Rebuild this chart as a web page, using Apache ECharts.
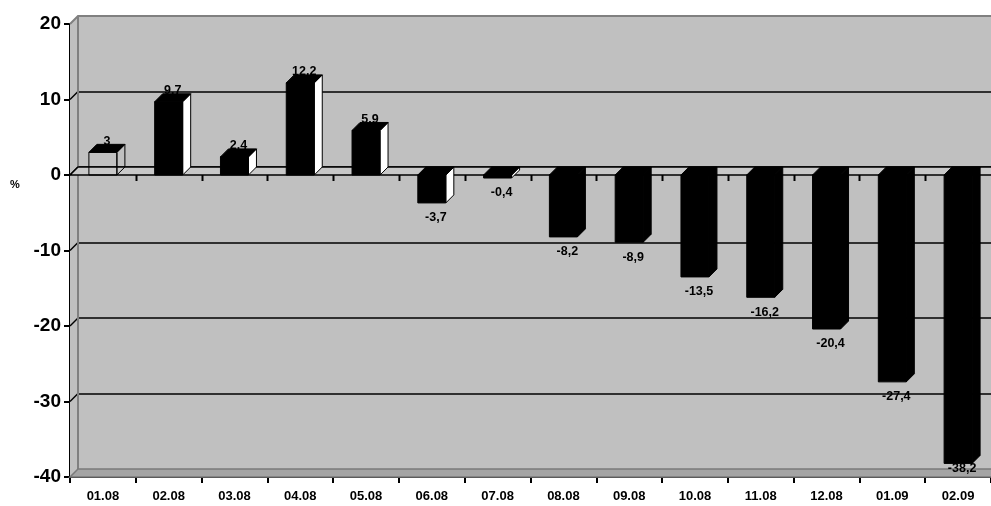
<!DOCTYPE html>
<html>
<head>
<meta charset="utf-8">
<script src="https://cdn.jsdelivr.net/npm/echarts@6/dist/echarts.min.js"></script>
<style>
  html, body { margin: 0; padding: 0; background: #fff; }
  #chart { width: 991px; height: 506px; }
</style>
</head>
<body>
<div id="chart"></div>
<script>
const months = ['01.08', '02.08', '03.08', '04.08', '05.08', '06.08', '07.08',
  '08.08', '09.08', '10.08', '11.08', '12.08', '01.09', '02.09']
const values = [3, 9.7, 2.4, 12.2, 5.9, -3.7, -0.4, -8.2, -8.9, -13.5, -16.2, -20.4, -27.4, -38.2]
const valueLabels = ['3', '9.7', '2.4', '12.2', '5.9', '-3,7', '-0,4', '-8,2', '-8,9',
  '-13,5', '-16,2', '-20,4', '-27,4', '-38,2']
const yTicks = [-40, -30, -20, -10, 0, 10, 20]

const DEPTH = 8 // 3D depth offset (px, right and up)
const BAR_HALF = 14
const FONT = 'Liberation Sans, Arial, sans-serif'

// side wall, floor, zero plane and zero line ticks
function renderWalls(params, api) {
  const cs = params.coordSys
  const left = cs.x
  const right = cs.x + cs.width
  const top = cs.y
  const bottom = cs.y + cs.height
  const d = DEPTH
  const y0 = api.coord([0, 0])[1]
  const band = api.size([1, 0])[0]
  const children = []

  children.push({
    type: 'polygon',
    shape: { points: [[left, top], [left + d, top - d], [left + d, bottom - d], [left, bottom]] },
    style: { fill: '#C0C0C0' }
  })
  yTicks.forEach(t => {
    if (t === yTicks[0] || t === yTicks[yTicks.length - 1]) return
    const y = api.coord([0, t])[1]
    children.push({
      type: 'line',
      shape: { x1: left, y1: y, x2: left + d, y2: y - d },
      style: { stroke: '#000', lineWidth: 1.5 }
    })
  })
  // wall edges
  children.push({
    type: 'polyline',
    shape: { points: [[left, top], [left + d, top - d], [right + d, top - d]] },
    style: { stroke: '#808080', lineWidth: 2, fill: null }
  })
  children.push({
    type: 'line',
    shape: { x1: left + d, y1: top - d, x2: left + d, y2: bottom - d },
    style: { stroke: '#808080', lineWidth: 2 }
  })
  // floor
  children.push({
    type: 'polygon',
    shape: { points: [[left, bottom], [left + d, bottom - d], [right + d, bottom - d], [right, bottom]] },
    style: { fill: '#A4A4A4', stroke: '#7A7A7A', lineWidth: 1.5 }
  })
  // zero plane
  children.push({
    type: 'polygon',
    shape: { points: [[left, y0], [left + d, y0 - d], [right + d, y0 - d], [right, y0]] },
    style: { fill: '#C8C8C8', stroke: '#000', lineWidth: 1.5 }
  })
  // ticks on the zero line at category boundaries
  for (let k = 1; k < months.length; k++) {
    const x = Math.round(api.coord([k, 0])[0] - band / 2) + 0.5
    children.push({
      type: 'line',
      shape: { x1: x, y1: y0, x2: x, y2: y0 + 6 },
      style: { stroke: '#000', lineWidth: 2 }
    })
  }
  return { type: 'group', children }
}

function renderBar(params, api) {
  const i = api.value(0)
  const v = api.value(1)
  const p = api.coord([i, v])
  const base = api.coord([i, 0])
  const cs = params.coordSys
  const d = DEPTH
  const cx = p[0]
  const x0 = cx - BAR_HALF
  const x1 = cx + BAR_HALF
  const yTop = Math.min(p[1], base[1])
  const yBot = Math.max(p[1], base[1])
  const hollow = params.dataIndex === 0
  const frontFill = hollow ? null : '#000'
  const sideFill = hollow ? null : (v < -5 ? '#000' : '#fff')

  let ly = v >= 0 ? yTop - 11 : yBot + 15
  ly = Math.min(ly, cs.y + cs.height - 8)

  return {
    type: 'group',
    children: [
      {
        type: 'polygon',
        shape: { points: [[x1, yTop], [x1 + d, yTop - d], [x1 + d, yBot - d], [x1, yBot]] },
        style: { fill: sideFill, stroke: '#000', lineWidth: 1 }
      },
      {
        type: 'rect',
        shape: { x: x0, y: yTop, width: x1 - x0, height: yBot - yTop },
        style: { fill: frontFill, stroke: '#000', lineWidth: 1 }
      },
      {
        type: 'polygon',
        shape: { points: [[x0, yTop], [x0 + d, yTop - d], [x1 + d, yTop - d], [x1, yTop]] },
        style: { fill: '#000', stroke: '#000', lineWidth: 1 }
      },
      {
        type: 'text',
        style: {
          text: valueLabels[params.dataIndex],
          x: cx + 4,
          y: ly,
          fill: '#000',
          font: 'bold 12.5px ' + FONT,
          textAlign: 'center',
          textVerticalAlign: 'middle',
          align: 'center',
          verticalAlign: 'middle'
        }
      }
    ]
  }
}

const chart = echarts.init(document.getElementById('chart'))
chart.setOption({
  animation: false,
  grid: [
    { left: 70, top: 24, right: 0, bottom: 29, containLabel: false },
    { left: 78, top: 16, right: -8, bottom: 37, show: true, backgroundColor: '#C0C0C0', borderWidth: 0 }
  ],
  xAxis: [
    {
      type: 'category',
      gridIndex: 0,
      data: months,
      axisLine: { onZero: false, lineStyle: { color: '#000', width: 2 } },
      axisTick: { show: true, length: 6, lineStyle: { color: '#000', width: 2 } },
      axisLabel: { color: '#000', fontWeight: 'bold', fontSize: 13, fontFamily: FONT, margin: 13, interval: 0 },
      splitLine: { show: false }
    },
    { type: 'category', gridIndex: 1, data: months, show: false }
  ],
  yAxis: [
    {
      type: 'value',
      gridIndex: 0,
      min: -40,
      max: 20,
      interval: 10,
      axisLine: { show: true, lineStyle: { color: '#000', width: 2 } },
      axisTick: { show: true, length: 6, lineStyle: { color: '#000', width: 2 } },
      axisLabel: { color: '#000', fontWeight: 'bold', fontSize: 19, fontFamily: FONT, margin: 9 },
      splitLine: { show: false }
    },
    {
      type: 'value',
      gridIndex: 1,
      min: -40,
      max: 20,
      interval: 10,
      axisLine: { show: false },
      axisTick: { show: false },
      axisLabel: { show: false },
      splitLine: { show: true, showMinLine: false, showMaxLine: false, lineStyle: { color: '#000', width: 1.5 } }
    }
  ],
  graphic: [
    {
      type: 'text',
      left: 10,
      top: 179,
      style: { text: '%', fill: '#000', font: 'bold 11px ' + FONT }
    }
  ],
  series: [
    {
      type: 'custom',
      name: 'walls',
      xAxisIndex: 0,
      yAxisIndex: 0,
      z: 1,
      silent: true,
      data: [[0, 0]],
      renderItem: renderWalls
    },
    {
      type: 'custom',
      name: '%',
      xAxisIndex: 0,
      yAxisIndex: 0,
      z: 3,
      encode: { x: 0, y: 1 },
      data: values.map((v, i) => [i, v]),
      renderItem: renderBar
    }
  ]
})
</script>
</body>
</html>
